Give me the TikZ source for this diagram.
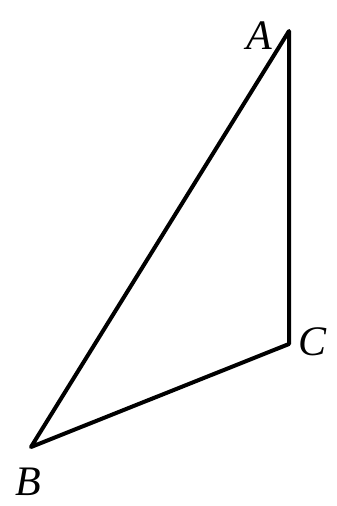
\documentclass[tikz,border=0pt]{standalone}
\usepackage{fontspec}
\setmainfont{Liberation Serif}
\begin{document}
\begin{tikzpicture}[x=1pt,y=-1pt,
  lbl/.style={font=\fontsize{42}{44}\selectfont\itshape, inner sep=0pt},
  side/.style={line width=4pt, line join=round}]
\useasboundingbox (0,0) rectangle (337,506);
\coordinate (A) at (289,31);
\coordinate (C) at (289,344);
\coordinate (B) at (31,447);
\draw[side] (A) -- (C) -- (B) -- cycle;
\node[lbl] (la) at (259,36) {A};
\node[lbl] (lc) at (313,342) {C};
\node[lbl] (lb) at (28,482) {B};
\end{tikzpicture}
\end{document}
